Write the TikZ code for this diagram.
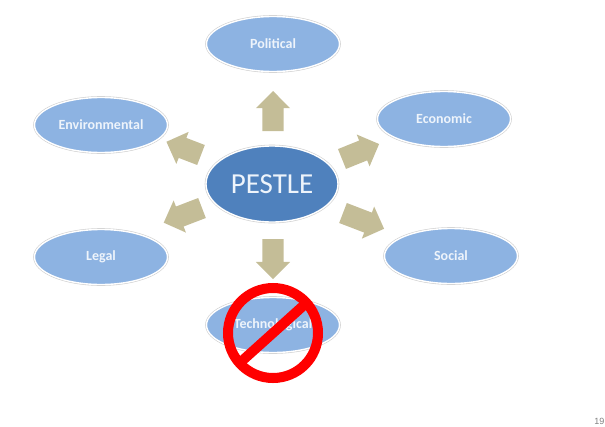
\documentclass[tikz,border=0pt]{standalone}
\usepackage{fontspec}
\setmainfont{Carlito}
\newfontfamily\pagefont{Liberation Sans}
\usetikzlibrary{shapes.geometric,shapes.arrows}
\definecolor{pestleblue}{HTML}{4F81BD}
\definecolor{leafblue}{HTML}{8DB3E2}
\definecolor{arrowtan}{HTML}{C4BD97}
\definecolor{rimgray}{HTML}{CFCFCF}
\definecolor{leaftext}{HTML}{EEF4FB}
\tikzset{
 rimmed/.style={shape=ellipse,inner sep=0pt,outer sep=0pt,preaction={draw=rimgray,line width=2.6pt},draw=white,line width=1.4pt},
 leaf/.style={rimmed,fill=leafblue,minimum width=133pt,minimum height=55pt,text=leaftext,font=\bfseries\fontsize{14}{16}\selectfont},
 blockarrow/.style={shape=single arrow,anchor=tail,fill=arrowtan,inner sep=0pt,outer sep=0pt,text height=21pt,text depth=0pt,minimum height=40pt,single arrow head extend=6.5pt,single arrow tip angle=90},
}
\begin{document}
\begin{tikzpicture}[x=1pt,y=-1pt]
 \useasboundingbox (0,0) rectangle (605,426);
 \node (hub) at (272,184) [rimmed,fill=pestleblue,minimum width=132pt,minimum height=76pt,text=leaftext,font=\fontsize{29}{33}\selectfont] {PESTLE};
 \node (political) at (273,44) [leaf] {Political};
 \node (environmental) at (101,125) [leaf] {Environmental};
 \node (economic) at (444,119) [leaf] {Economic};
 \node (legal) at (101,257) [leaf] {Legal};
 \node (social) at (451,256) [leaf] {Social};
 \node (technological) at (273,325) [leaf] {Technological};
 \node (arrow n) at (273,131) [blockarrow,rotate=90] {};
 \node (arrow s) at (273,239) [blockarrow,rotate=-90] {};
 \node (arrow ne) at (342,159) [blockarrow,rotate=22] {};
 \node (arrow se) at (343,213) [blockarrow,rotate=-21,minimum height=44pt] {};
 \node (arrow nw) at (201,155) [blockarrow,rotate=159,minimum height=37pt] {};
 \node (arrow sw) at (202,208) [blockarrow,rotate=201,minimum height=41pt] {};
 \node (nosign) at (273,333) [shape=circle,draw=red,line width=10pt,minimum size=90pt,inner sep=0pt,outer sep=0pt] {};
 \draw [red,line width=10pt] (nosign.42) -- (nosign.222);
 \node (pagenum) at (604.5,421) [anchor=east,inner sep=0pt,text=gray,font=\pagefont\fontsize{9}{10}\selectfont] {19};
\end{tikzpicture}
\end{document}
